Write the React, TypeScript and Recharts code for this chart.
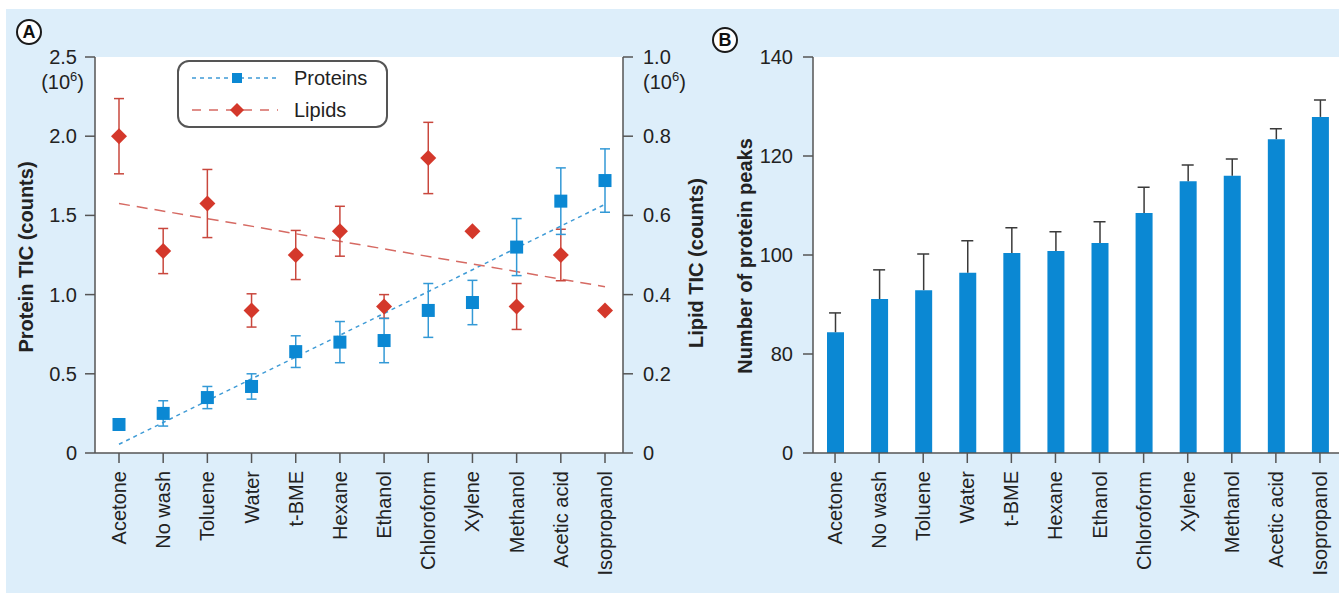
import React from 'react';
import { ComposedChart, Bar, Line, XAxis, YAxis, CartesianGrid, ErrorBar, Legend } from 'recharts';

// categories shared by both panels
const solvents = ['Acetone', 'No wash', 'Toluene', 'Water', 't-BME', 'Hexane', 'Ethanol', 'Chloroform', 'Xylene', 'Methanol', 'Acetic acid', 'Isopropanol'];

// panel A, left axis (10^6 counts)
const proteinTic = [0.18, 0.25, 0.35, 0.42, 0.64, 0.7, 0.71, 0.9, 0.95, 1.3, 1.59, 1.72];
const proteinErr = [0, 0.08, 0.07, 0.08, 0.1, 0.13, 0.14, 0.17, 0.14, 0.18, 0.21, 0.2];
const proteinTrend = [0.055, null, null, null, null, null, null, null, null, null, null, 1.57];

// panel A, right axis (10^6 counts)
const lipidTic = [0.8, 0.51, 0.63, 0.36, 0.5, 0.56, 0.37, 0.745, 0.56, 0.37, 0.5, 0.36];
const lipidErr = [0.095, 0.057, 0.086, 0.042, 0.062, 0.063, 0.03, 0.09, 0, 0.058, 0.065, 0];
const lipidTrend = [0.63, null, null, null, null, null, null, null, null, null, null, 0.42];

// panel B
const proteinPeaks = [84.4, 91.1, 92.9, 96.4, 100.4, 100.8, 102.4, 108.5, 114.9, 116, 123.4, 127.9];
const proteinPeaksErr = [3.9, 5.9, 7.3, 6.5, 5.1, 3.9, 4.3, 5.2, 3.3, 3.4, 2.1, 3.4];

const proteinTicks = [0, 0.5, 1, 1.5, 2, 2.5];
const lipidTicks = [0, 0.2, 0.4, 0.6, 0.8, 1];
// axis B is broken: the bottom tick stands for 0
const peakTicks = [60, 80, 100, 120, 140];

const FONT = '"Liberation Sans", Arial, Helvetica, sans-serif';
const BLUE = '#0b88d3';
const BLUE_ERR = '#3399d6';
const BLUE_TREND = '#3f9bd6';
const RED = '#d4382b';
const RED_ERR = '#c9473d';
const RED_TREND = '#d66a63';
const AXIS = '#555';
const TEXT = '#222';
const WHISKER = '#3a3a3a';

const panelA = solvents.map((name, i) => ({
    name,
    protein: proteinTic[i],
    proteinErr: proteinErr[i],
    proteinTrend: proteinTrend[i],
    lipid: lipidTic[i],
    lipidErr: lipidErr[i],
    lipidTrend: lipidTrend[i],
}));

// only the upper half of each error bar is shown in B
const panelB = solvents.map((name, i) => ({
    name,
    peaks: proteinPeaks[i],
    peaksUp: [0, proteinPeaksErr[i]],
    peaksTop: proteinPeaks[i] + proteinPeaksErr[i],
}));

const legendItems = [
    { name: 'Proteins', color: BLUE, line: BLUE_TREND, dash: '4 4', shape: 'square' },
    { name: 'Lipids', color: RED, line: RED_TREND, dash: '9 8', shape: 'diamond' },
];

const SolventTick = ({ x, y, payload }: any) => (
    <text
        transform={`translate(${x},${y}) rotate(-90)`}
        textAnchor="end"
        dy="0.35em"
        fontSize={20}
        fontFamily={FONT}
        fill={TEXT}
    >
        {payload.value}
    </text>
);

// numeric tick; the top tick of panel A carries the (10^6) unit below it
const ValueTick = ({ x, y, payload, textAnchor, label, unitAt, unitShift }: any) => (
    <g>
        <text x={x} y={y} dy="0.35em" textAnchor={textAnchor} fontSize={20} fontFamily={FONT} fill={TEXT}>
            {label(payload.value)}
        </text>
        {payload.value === unitAt && (
            <text x={x + unitShift} y={y + 25} dy="0.35em" textAnchor={textAnchor} fontSize={20} fontFamily={FONT} fill={TEXT}>
                (10<tspan dy={-8} fontSize={13}>6</tspan><tspan dy={8}>)</tspan>
            </text>
        )}
    </g>
);

const AxisTitle = ({ viewBox, value, dx, dy }: any) => (
    <text
        transform={`translate(${viewBox.x + dx},${viewBox.y + viewBox.height / 2 + dy}) rotate(-90)`}
        textAnchor="middle"
        dy="0.35em"
        fontSize={20}
        fontWeight="bold"
        fontFamily={FONT}
        fill={TEXT}
    >
        {value}
    </text>
);

const SquareDot = ({ cx, cy }: any) =>
    cx == null || cy == null ? null : <rect x={cx - 6.5} y={cy - 6.5} width={13} height={13} fill={BLUE} />;

const DiamondDot = ({ cx, cy }: any) =>
    cx == null || cy == null ? null : (
        <polygon points={`${cx},${cy - 8} ${cx + 8},${cy} ${cx},${cy + 8} ${cx - 8},${cy}`} fill={RED} />
    );

const CapDot = ({ cx, cy }: any) =>
    cx == null || cy == null ? null : <line x1={cx - 6} x2={cx + 6} y1={cy} y2={cy} stroke={WHISKER} strokeWidth={1.5} />;

const TicLegend = () => (
    <div style={{ width: 207, height: 64, border: `2px solid ${AXIS}`, borderRadius: 12, background: '#fff' }}>
        <svg width={207} height={64}>
            {legendItems.map((item, i) => {
                const cy = 16 + i * 32;
                return (
                    <g key={item.name}>
                        <line x1={13} x2={99} y1={cy} y2={cy} stroke={item.line} strokeWidth={1.5} strokeDasharray={item.dash} />
                        {item.shape === 'square' ? (
                            <rect x={53} y={cy - 5} width={10} height={10} fill={item.color} />
                        ) : (
                            <polygon points={`58,${cy - 7} 65,${cy} 58,${cy + 7} 51,${cy}`} fill={item.color} />
                        )}
                        <text x={115} y={cy} dy="0.35em" fontSize={20} fontFamily={FONT} fill={TEXT}>
                            {item.name}
                        </text>
                    </g>
                );
            })}
        </svg>
    </div>
);

const PanelBadge = ({ letter, left, top }: { letter: string; left: number; top: number }) => (
    <div
        style={{
            position: 'absolute',
            left,
            top,
            width: 22,
            height: 22,
            borderRadius: '50%',
            border: '2px solid #1a1a1a',
            background: '#fff',
            fontFamily: FONT,
            fontWeight: 'bold',
            fontSize: 18,
            lineHeight: '22px',
            textAlign: 'center',
            color: '#111',
        }}
    >
        {letter}
    </div>
);

export default function App() {
    return (
        <div style={{ position: 'fixed', left: 0, top: 0, width: 1339, height: 593, overflow: 'hidden', background: '#fff' }}>
            <div style={{ position: 'absolute', left: 6, top: 9, width: 1333, height: 584, background: '#ddeefa' }} />

            <div style={{ position: 'absolute', left: 0, top: 0 }}>
                <ComposedChart width={720} height={593} data={panelA} margin={{ top: 57, right: 37, bottom: 10, left: 35 }}>
                    <CartesianGrid fill="#fff" horizontal={false} vertical={false} yAxisId="protein" />
                    <XAxis
                        dataKey="name"
                        scale="point"
                        padding={{ left: 24, right: 18 }}
                        interval={0}
                        height={130}
                        tickSize={10}
                        tickMargin={8}
                        stroke={AXIS}
                        strokeWidth={1.5}
                        tick={(p: any) => <SolventTick {...p} />}
                    />
                    <YAxis
                        yAxisId="protein"
                        width={60}
                        domain={[0, 2.5]}
                        ticks={proteinTicks}
                        tickSize={10}
                        tickMargin={8}
                        stroke={AXIS}
                        strokeWidth={1.5}
                        tick={(p: any) => (
                            <ValueTick {...p} label={(v: number) => (v === 0 ? '0' : v.toFixed(1))} unitAt={2.5} unitShift={7} />
                        )}
                        label={{ content: (p: any) => <AxisTitle {...p} value="Protein TIC (counts)" dx={-9} dy={2} /> }}
                    />
                    <YAxis
                        yAxisId="lipid"
                        orientation="right"
                        width={60}
                        domain={[0, 1]}
                        ticks={lipidTicks}
                        tickSize={10}
                        tickMargin={10}
                        stroke={AXIS}
                        strokeWidth={1.5}
                        tick={(p: any) => (
                            <ValueTick {...p} label={(v: number) => (v === 0 ? '0' : v.toFixed(1))} unitAt={1} unitShift={0} />
                        )}
                        label={{ content: (p: any) => <AxisTitle {...p} value="Lipid TIC (counts)" dx={73} dy={8} /> }}
                    />
                    <Legend
                        verticalAlign="middle"
                        align="center"
                        content={() => <TicLegend />}
                        wrapperStyle={{ position: 'absolute', left: 177, top: 60, width: 211, height: 68 }}
                    />
                    <Line
                        yAxisId="protein"
                        dataKey="proteinTrend"
                        stroke={BLUE_TREND}
                        strokeWidth={1.5}
                        strokeDasharray="4 4"
                        dot={false}
                        activeDot={false}
                        connectNulls
                        legendType="none"
                        isAnimationActive={false}
                    />
                    <Line
                        yAxisId="lipid"
                        dataKey="lipidTrend"
                        stroke={RED_TREND}
                        strokeWidth={1.5}
                        strokeDasharray="11 7"
                        dot={false}
                        activeDot={false}
                        connectNulls
                        legendType="none"
                        isAnimationActive={false}
                    />
                    <Line
                        yAxisId="lipid"
                        dataKey="lipid"
                        name="Lipids"
                        stroke="none"
                        dot={(p: any) => <DiamondDot key={`l${p.index}`} {...p} />}
                        activeDot={false}
                        isAnimationActive={false}
                    >
                        <ErrorBar dataKey="lipidErr" width={5} stroke={RED_ERR} strokeWidth={1.5} direction="y" />
                    </Line>
                    <Line
                        yAxisId="protein"
                        dataKey="protein"
                        name="Proteins"
                        stroke="none"
                        dot={(p: any) => <SquareDot key={`p${p.index}`} {...p} />}
                        activeDot={false}
                        isAnimationActive={false}
                    >
                        <ErrorBar dataKey="proteinErr" width={5} stroke={BLUE_ERR} strokeWidth={1.5} direction="y" />
                    </Line>
                </ComposedChart>
            </div>

            <div style={{ position: 'absolute', left: 700, top: 0 }}>
                <ComposedChart width={642} height={593} data={panelB} margin={{ top: 57, right: 0, bottom: 10, left: 53 }}>
                    <CartesianGrid fill="#fff" horizontal={false} vertical={false} />
                    <XAxis
                        dataKey="name"
                        interval={0}
                        height={130}
                        tickSize={10}
                        tickMargin={8}
                        stroke={AXIS}
                        strokeWidth={1.5}
                        tick={(p: any) => <SolventTick {...p} />}
                    />
                    <YAxis
                        width={60}
                        domain={[60, 140]}
                        ticks={peakTicks}
                        allowDataOverflow
                        tickSize={10}
                        tickMargin={10}
                        stroke={AXIS}
                        strokeWidth={1.5}
                        tick={(p: any) => <ValueTick {...p} label={(v: number) => (v === 60 ? '0' : String(v))} unitAt={null} unitShift={0} />}
                        label={{ content: (p: any) => <AxisTitle {...p} value="Number of protein peaks" dx={-8} dy={1} /> }}
                    />
                    <Bar dataKey="peaks" fill={BLUE} barSize={17} isAnimationActive={false}>
                        <ErrorBar dataKey="peaksUp" width={0} stroke={WHISKER} strokeWidth={1.5} direction="y" />
                    </Bar>
                    <Line
                        dataKey="peaksTop"
                        stroke="none"
                        dot={(p: any) => <CapDot key={`c${p.index}`} {...p} />}
                        activeDot={false}
                        legendType="none"
                        isAnimationActive={false}
                    />
                </ComposedChart>
            </div>

            <PanelBadge letter="A" left={16} top={19} />
            <PanelBadge letter="B" left={712} top={27} />
        </div>
    );
}
